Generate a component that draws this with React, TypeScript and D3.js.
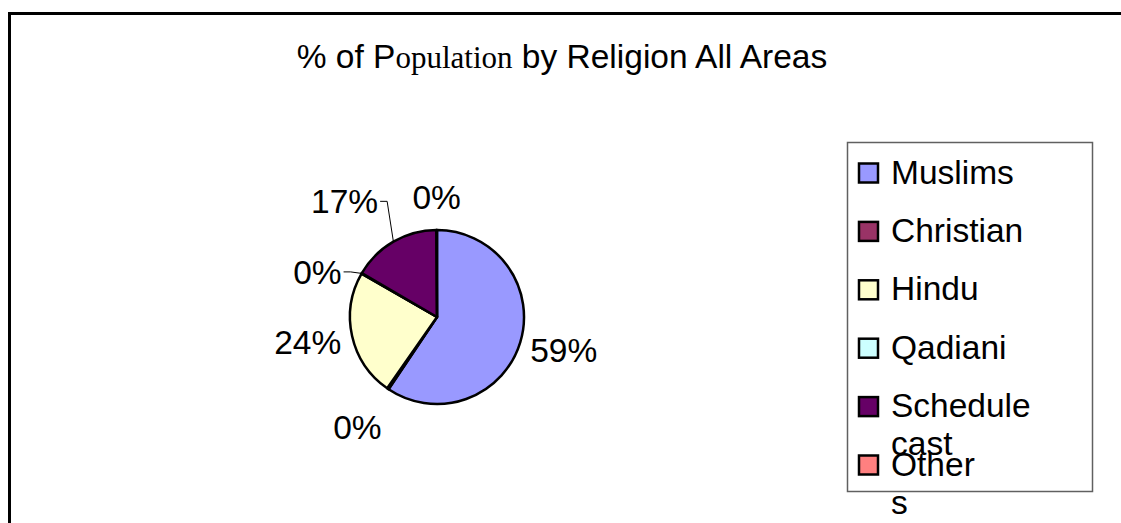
import * as d3 from "d3";

// data
const CATEGORIES = ["Muslims", "Christian", "Hindu", "Qadiani", "Schedule cast", "Others"];
const SHARES = [59.4, 0.3, 23.6, 0.1, 16.5, 0.1];
const COLORS = ["#9999FF", "#993366", "#FFFFCC", "#CCFFFF", "#660066", "#FF8080"];
const LEGEND_LINES = [["Muslims"], ["Christian"], ["Hindu"], ["Qadiani"], ["Schedule", "cast"], ["Other", "s"]];

const W = 1121;
const H = 523;
const CX = 437;
const CY = 317;
const R = 87;
const FONT = 33.5;
const SANS = "'Liberation Sans', Arial, Helvetica, sans-serif";
const SERIF = "'Liberation Serif', 'Times New Roman', serif";

// labels that Excel dragged away from their default spot
const LABEL_NUDGE: Record<string, [number, number]> = {
  Christian: [-10, 16],
  Qadiani: [-13, 12],
  "Schedule cast": [-26, -17],
  Others: [0, -6],
};
const LEADERS = new Set(["Qadiani", "Schedule cast"]);

const CHAR_W: Record<string, number> = { "%": 0.889 };
const textWidth = (s: string) =>
  s.split("").reduce((acc, c) => acc + (CHAR_W[c] ?? 0.556), 0) * FONT;

export default function App() {
  const rows = CATEGORIES.map((c, i) => ({ cat: c, v: SHARES[i] }));
  const color = d3.scaleOrdinal<string, string>().domain(CATEGORIES).range(COLORS);
  const pie = d3.pie<typeof rows[0]>().value(d => d.v).sort(null);
  const arcs = pie(rows);
  const arc = d3.arc<d3.PieArcDatum<typeof rows[0]>>().innerRadius(0).outerRadius(R);
  const total = d3.sum(SHARES);
  const fmt = (v: number) => `${Math.round((v / total) * 100)}%`;

  // legend layout
  const legendY = d3.scalePoint<string>().domain(CATEGORIES).range([173, 465]);

  const labels = arcs.map(a => {
    const mid = (a.startAngle + a.endAngle) / 2;
    const s = Math.sin(mid);
    const c = -Math.cos(mid);
    const txt = fmt(a.data.v);
    const w = textWidth(txt);
    const px = CX + (R + 12) * s;
    const py = CY + (R + 12) * c;
    const nudge = LABEL_NUDGE[a.data.cat] ?? [0, 0];
    const x = px + (s * w) / 2 + nudge[0];
    const y = py + (c * 30) / 2 + nudge[1];
    const edge: [number, number] = [CX + R * s, CY + R * c];
    return { cat: a.data.cat, txt, x, y, w, edge };
  });

  return (
    <div style={{ position: "fixed", left: 0, top: 0 }}>
      <svg width={W} height={H} style={{ display: "block", background: "#fff" }}>
        {/* outer chart frame, runs past the window on the right and bottom */}
        <rect x={9.5} y={13.5} width={W + 20} height={H + 20} fill="#fff" stroke="#000" strokeWidth={3} />

        <text x={562} y={68} textAnchor="middle" fontFamily={SANS} fontSize={FONT} fill="#000">
          % of P
          <tspan fontFamily={SERIF} fontSize={31}>opulation</tspan>
          {" by Religion All Areas"}
        </text>

        <g transform={`translate(${CX},${CY})`}>
          {arcs.map(a => (
            <path
              key={a.data.cat}
              d={arc(a) ?? ""}
              fill={color(a.data.cat)}
              stroke="#000"
              strokeWidth={2.5}
              strokeLinejoin="round"
            />
          ))}
        </g>

        {labels.map(l =>
          LEADERS.has(l.cat) ? (
            <polyline
              key={`lead-${l.cat}`}
              points={[l.edge, [l.x + l.w / 2 + 9, l.y], [l.x + l.w / 2 + 2, l.y]].map(p => p.join(",")).join(" ")}
              fill="none"
              stroke="#000"
              strokeWidth={1}
            />
          ) : null
        )}
        {labels.map(l => (
          <text
            key={`lab-${l.cat}`}
            x={l.x}
            y={l.y + FONT * 0.358}
            textAnchor="middle"
            fontFamily={SANS}
            fontSize={FONT}
            fill="#000"
          >
            {l.txt}
          </text>
        ))}

        {/* legend */}
        <rect x={847.5} y={142.5} width={245} height={349} fill="#fff" stroke="#606060" strokeWidth={1.5} />
        {CATEGORIES.map((c, i) => {
          const cy = legendY(c)!;
          return (
            <g key={`leg-${c}`}>
              <rect x={859} y={cy - 9.5} width={19} height={19} fill={color(c)} stroke="#000" strokeWidth={2.5} />
              <text x={891} y={cy + 10.5} fontFamily={SANS} fontSize={FONT} fill="#000">
                {LEGEND_LINES[i].map((line, j) => (
                  <tspan key={j} x={891} dy={j === 0 ? 0 : 38}>
                    {line}
                  </tspan>
                ))}
              </text>
            </g>
          );
        })}
      </svg>
    </div>
  );
}
